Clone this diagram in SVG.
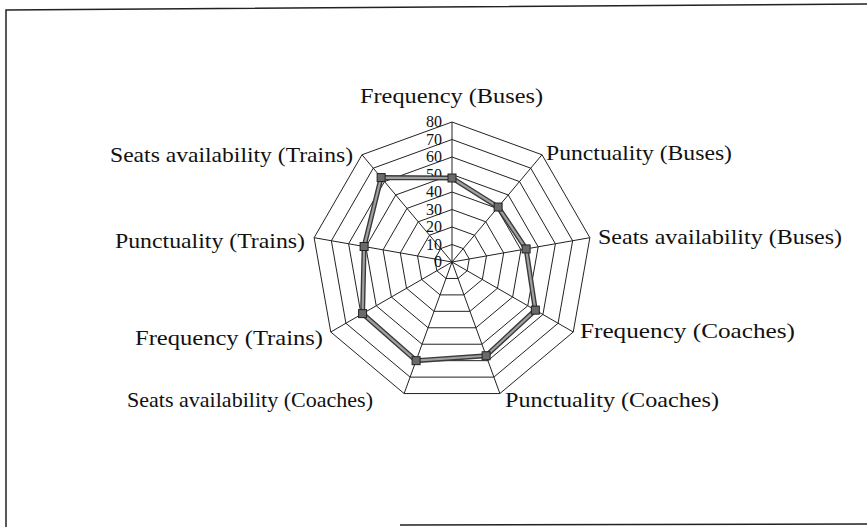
<svg xmlns="http://www.w3.org/2000/svg" width="867" height="527" viewBox="0 0 867 527">
<style>
.ring{fill:none;stroke:#222;stroke-width:1}
.spoke{stroke:#222;stroke-width:1}
.lbl{font-family:"Liberation Serif","Times New Roman",serif;font-size:22px;fill:#111}
.tick{font-family:"Liberation Serif","Times New Roman",serif;font-size:16px;fill:#111;text-anchor:end}
.frame{stroke:#222;stroke-width:1.5;fill:none}
.mk{fill:#6a6a6a;stroke:#222;stroke-width:1}
</style>
<rect width="867" height="527" fill="#fff"/>
<g id="frame">
<path class="frame" d="M6 527 L6 10 L867 4"/>
<path class="frame" d="M400 525 L867 524"/>
</g>
<g id="chart" transform="translate(452,262)">
<g id="grid">
<polygon class="ring" points="0,-17.5 11.25,-13.41 17.23,-3.04 15.16,8.75 5.99,16.44 -5.99,16.44 -15.16,8.75 -17.23,-3.04 -11.25,-13.41"/>
<polygon class="ring" points="0,-35 22.5,-26.81 34.47,-6.08 30.31,17.5 11.97,32.89 -11.97,32.89 -30.31,17.5 -34.47,-6.08 -22.5,-26.81"/>
<polygon class="ring" points="0,-52.5 33.75,-40.22 51.7,-9.11 45.47,26.25 17.96,49.33 -17.96,49.33 -45.47,26.25 -51.7,-9.11 -33.75,-40.22"/>
<polygon class="ring" points="0,-70 45,-53.62 68.94,-12.15 60.62,35 23.94,65.78 -23.94,65.78 -60.62,35 -68.94,-12.15 -45,-53.62"/>
<polygon class="ring" points="0,-87.5 56.25,-67.03 86.17,-15.19 75.78,43.75 29.93,82.22 -29.93,82.22 -75.78,43.75 -86.17,-15.19 -56.25,-67.03"/>
<polygon class="ring" points="0,-105 67.49,-80.43 103.4,-18.23 90.93,52.5 35.91,98.67 -35.91,98.67 -90.93,52.5 -103.4,-18.23 -67.49,-80.43"/>
<polygon class="ring" points="0,-122.5 78.74,-93.84 120.64,-21.27 106.09,61.25 41.9,115.11 -41.9,115.11 -106.09,61.25 -120.64,-21.27 -78.74,-93.84"/>
<polygon class="ring" points="0,-140 89.99,-107.24 137.87,-24.3 121.24,70 47.88,131.56 -47.88,131.56 -121.24,70 -137.87,-24.3 -89.99,-107.24"/>
</g>
<g id="connectors">
<line class="spoke" x1="0" y1="0" x2="0" y2="-140"/>
<line class="spoke" x1="0" y1="0" x2="89.99" y2="-107.24"/>
<line class="spoke" x1="0" y1="0" x2="137.87" y2="-24.3"/>
<line class="spoke" x1="0" y1="0" x2="121.24" y2="70"/>
<line class="spoke" x1="0" y1="0" x2="47.88" y2="131.56"/>
<line class="spoke" x1="0" y1="0" x2="-47.88" y2="131.56"/>
<line class="spoke" x1="0" y1="0" x2="-121.24" y2="70"/>
<line class="spoke" x1="0" y1="0" x2="-137.87" y2="-24.3"/>
<line class="spoke" x1="0" y1="0" x2="-89.99" y2="-107.24"/>
</g>
<g id="ticks">
<text class="tick" x="-10" y="5">0</text>
<text class="tick" x="-10" y="-12.5">10</text>
<text class="tick" x="-10" y="-30">20</text>
<text class="tick" x="-10" y="-47.5">30</text>
<text class="tick" x="-10" y="-65">40</text>
<text class="tick" x="-10" y="-82.5">50</text>
<text class="tick" x="-10" y="-100">60</text>
<text class="tick" x="-10" y="-117.5">70</text>
<text class="tick" x="-10" y="-135">80</text>
</g>
<g id="series">
<polygon points="0,-84 46.12,-54.96 74.11,-13.06 83.35,48.13 34.11,93.74 -35.91,98.67 -89.42,51.63 -87.89,-15.49 -70.87,-84.45" fill="none" stroke="#3a3a3a" stroke-width="5" stroke-linejoin="round"/>
<polygon points="0,-84 46.12,-54.96 74.11,-13.06 83.35,48.13 34.11,93.74 -35.91,98.67 -89.42,51.63 -87.89,-15.49 -70.87,-84.45" fill="none" stroke="#a0a0a0" stroke-width="2.2" stroke-linejoin="round"/>
<rect class="mk" x="-4" y="-88" width="8" height="8"/>
<rect class="mk" x="42.12" y="-58.96" width="8" height="8"/>
<rect class="mk" x="70.11" y="-17.06" width="8" height="8"/>
<rect class="mk" x="79.35" y="44.13" width="8" height="8"/>
<rect class="mk" x="30.11" y="89.74" width="8" height="8"/>
<rect class="mk" x="-39.91" y="94.67" width="8" height="8"/>
<rect class="mk" x="-93.42" y="47.63" width="8" height="8"/>
<rect class="mk" x="-91.89" y="-19.49" width="8" height="8"/>
<rect class="mk" x="-74.87" y="-88.45" width="8" height="8"/>
</g>
</g>
<g id="label-freq-buses"><text class="lbl" x="360" y="103" textLength="183" lengthAdjust="spacingAndGlyphs">Frequency (Buses)</text></g>
<g id="label-punct-buses"><text class="lbl" x="546" y="160" textLength="186" lengthAdjust="spacingAndGlyphs">Punctuality (Buses)</text></g>
<g id="label-seats-buses"><text class="lbl" x="598" y="244" textLength="244" lengthAdjust="spacingAndGlyphs">Seats availability (Buses)</text></g>
<g id="label-freq-coaches"><text class="lbl" x="580" y="338" textLength="215" lengthAdjust="spacingAndGlyphs">Frequency (Coaches)</text></g>
<g id="label-punct-coaches"><text class="lbl" x="505" y="407" textLength="214" lengthAdjust="spacingAndGlyphs">Punctuality (Coaches)</text></g>
<g id="label-seats-coaches"><text class="lbl" x="127" y="407" textLength="246" lengthAdjust="spacingAndGlyphs">Seats availability (Coaches)</text></g>
<g id="label-freq-trains"><text class="lbl" x="135" y="345" textLength="188" lengthAdjust="spacingAndGlyphs">Frequency (Trains)</text></g>
<g id="label-punct-trains"><text class="lbl" x="115" y="248" textLength="190" lengthAdjust="spacingAndGlyphs">Punctuality (Trains)</text></g>
<g id="label-seats-trains"><text class="lbl" x="110" y="162" textLength="243" lengthAdjust="spacingAndGlyphs">Seats availability (Trains)</text></g>
</svg>
